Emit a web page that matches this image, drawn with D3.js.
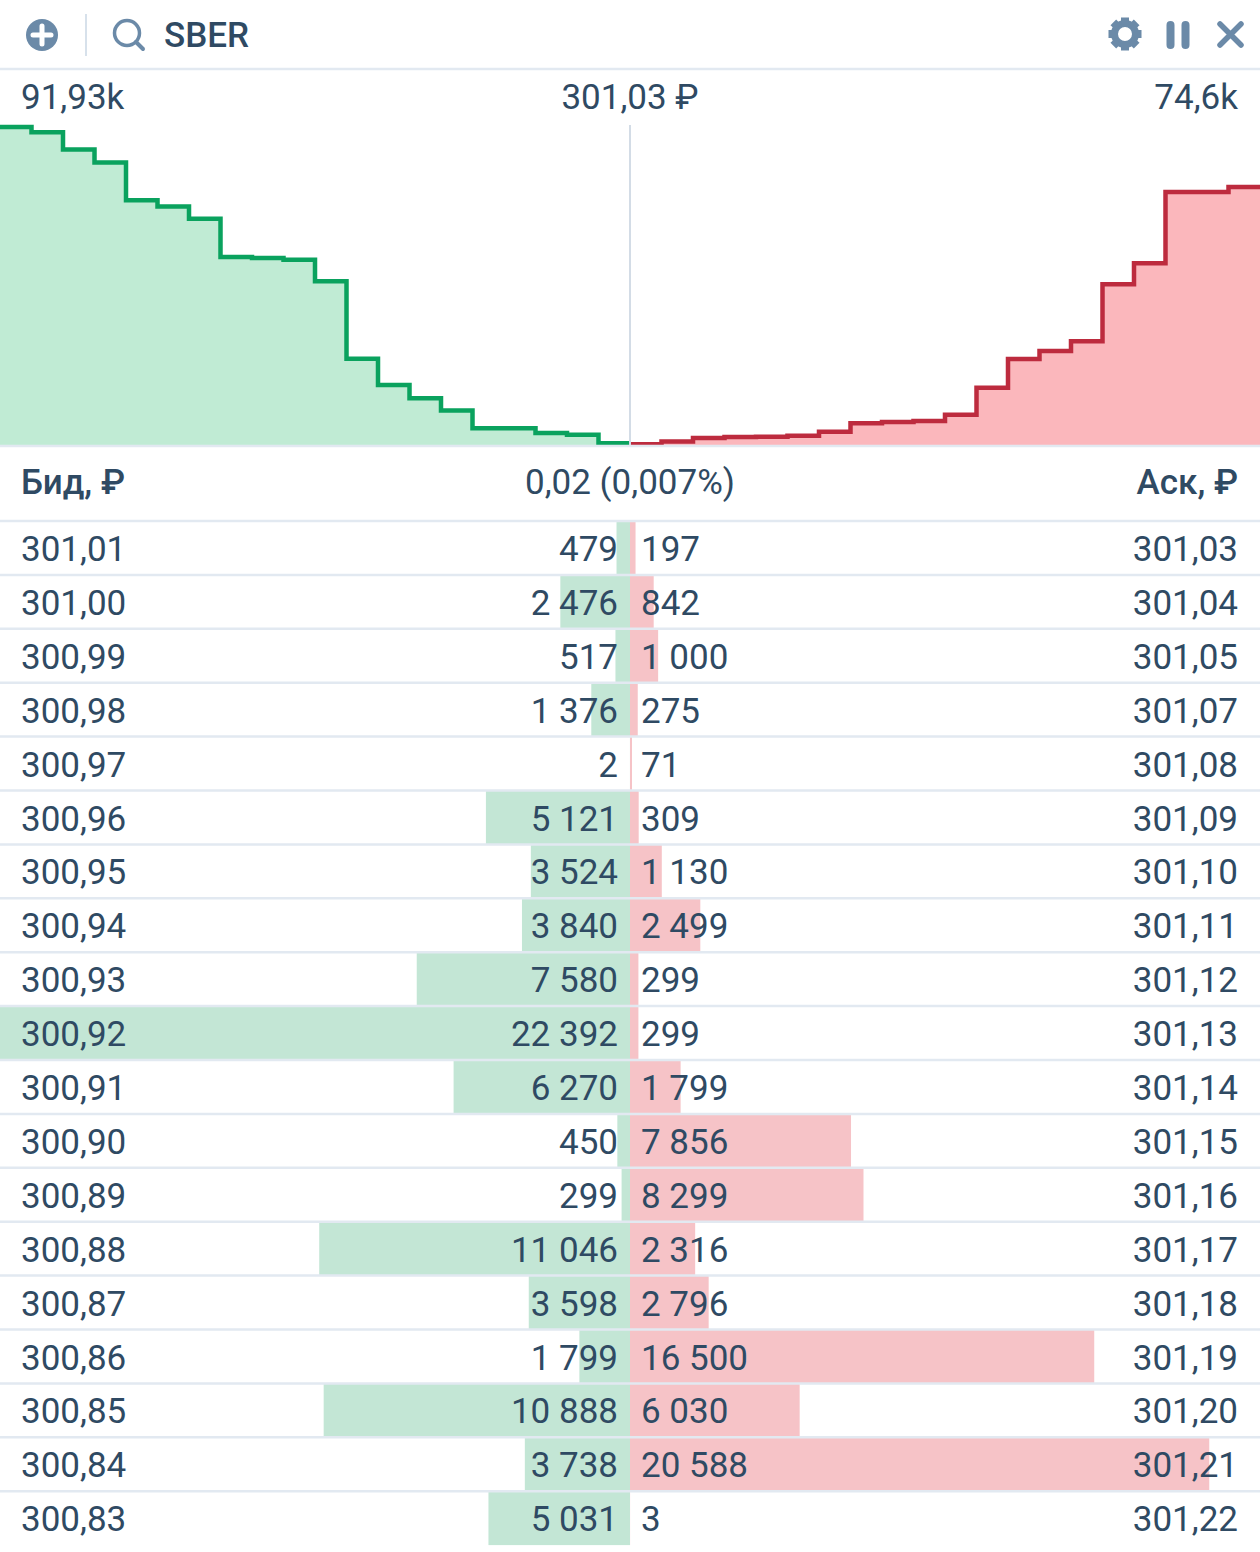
<!DOCTYPE html>
<html>
<head>
<meta charset="utf-8">
<script src="https://cdnjs.cloudflare.com/ajax/libs/d3/7.8.5/d3.min.js"></script>
<style>
  html, body { margin: 0; padding: 0; background: #fff; }
  svg { display: block; }
  text { font-family: Roboto, sans-serif; font-size: 35px; fill: #2f4a63; }
</style>
</head>
<body>
<svg id="chart" width="1260" height="1552"></svg>
<script>
const bidPrices = ["301,01","301,00","300,99","300,98","300,97","300,96","300,95","300,94","300,93","300,92","300,91","300,90","300,89","300,88","300,87","300,86","300,85","300,84","300,83"];
const askPrices = ["301,03","301,04","301,05","301,07","301,08","301,09","301,10","301,11","301,12","301,13","301,14","301,15","301,16","301,17","301,18","301,19","301,20","301,21","301,22"];
const bidVolumes = [479,2476,517,1376,2,5121,3524,3840,7580,22392,6270,450,299,11046,3598,1799,10888,3738,5031];
const askVolumes = [197,842,1000,275,71,309,1130,2499,299,299,1799,7856,8299,2316,2796,16500,6030,20588,3];
// cumulative book depth, last level sits below the visible rows
const bidDepth = [479,2955,3472,4848,4850,9971,13495,17335,24915,47307,53577,54027,54326,65372,68970,70769,81657,85395,90426,91930];
const askDepth = [197,1039,2039,2314,2385,2694,3824,6323,6622,6921,8720,16576,24875,27191,29987,46487,52517,73105,73108,74600];

const textColor = "#2f4a63", iconColor = "#6b8aa8", ruleColor = "#e2e9f1";
const W = 1260, mid = 630;
const svg = d3.select("#chart");

// depth chart
const level = d3.scaleLinear().domain([0, 20]).range([0, 630]);
const depthY = d3.scaleLinear().domain([0, 91930]).range([445, 127]);

function drawDepth(depth, side, fill, stroke) {
  const pts = [[0, depth[0]]];
  depth.forEach((d, i) => { pts.push([i + 1, d]); });
  const px = i => mid + side * level(i);
  const line = d3.line().x(d => px(d[0])).y(d => depthY(d[1])).curve(d3.curveStepBefore);
  const area = d3.area().x(d => px(d[0])).y0(depthY(0)).y1(d => depthY(d[1])).curve(d3.curveStepBefore);
  svg.append("path").attr("d", area(pts)).attr("fill", fill);
  svg.append("path").attr("d", line(pts)).attr("fill", "none").attr("stroke", stroke).attr("stroke-width", 4.5);
}
drawDepth(bidDepth, -1, "#c0ebd4", "#0aa25e");
drawDepth(askDepth, 1, "#fbb7bc", "#bd2b3e");

svg.append("line").attr("x1", mid).attr("x2", mid).attr("y1", 125).attr("y2", 445)
  .attr("stroke", "#d3dce6").attr("stroke-width", 2);

// rows
const rowY = d3.scaleLinear().domain([0, 1]).range([521, 574.9]);
const barX = d3.scaleLinear().domain([0, 22392]).range([0, 630]);
const rows = d3.range(bidPrices.length);

svg.selectAll(".bid").data(rows).join("rect").attr("class", "bid")
  .attr("x", i => mid - barX(bidVolumes[i])).attr("width", i => barX(bidVolumes[i]))
  .attr("y", i => rowY(i)).attr("height", 53.9).attr("fill", "#c3e6d5");
svg.selectAll(".ask").data(rows).join("rect").attr("class", "ask")
  .attr("x", mid).attr("width", i => barX(askVolumes[i]))
  .attr("y", i => rowY(i)).attr("height", 53.9).attr("fill", "#f6c3c7");

// row rules, header rules
[69, 446].concat(d3.range(0, 19).map(i => rowY(i))).forEach(y => {
  svg.append("line").attr("x1", 0).attr("x2", W).attr("y1", y).attr("y2", y)
    .attr("stroke", ruleColor).attr("stroke-width", 2.5);
});

const fmt = v => String(v).replace(/\B(?=(\d{3})+$)/g, " ");
function col(cls, x, anchor, get) {
  svg.selectAll("." + cls).data(rows).join("text").attr("class", cls)
    .attr("x", x).attr("y", i => rowY(i) + 40).attr("text-anchor", anchor).text(get);
}
col("bp", 21, "start", i => bidPrices[i]);
col("bv", 618, "end", i => fmt(bidVolumes[i]));
col("av", 641, "start", i => fmt(askVolumes[i]));
col("ap", 1238, "end", i => askPrices[i]);

// labels
function label(x, y, str, anchor, weight) {
  svg.append("text").attr("x", x).attr("y", y).attr("text-anchor", anchor)
    .attr("font-weight", weight || 400).style("font-weight", weight || 400).text(str);
}
label(21, 109, "91,93k", "start");
label(630, 109, "301,03 ₽", "middle");
label(1238, 109, "74,6k", "end");
label(21, 494, "Бид, ₽", "start", 500);
label(630, 494, "0,02 (0,007%)", "middle");
label(1238, 494, "Аск, ₽", "end", 500);
label(164, 47, "SBER", "start", 500);

// toolbar icons
const icons = svg.append("g");
icons.append("circle").attr("cx", 42).attr("cy", 35).attr("r", 16).attr("fill", iconColor);
icons.append("path").attr("d", "M33 35H51M42 26V44").attr("stroke", "#fff").attr("stroke-width", 5).attr("stroke-linecap", "round");
icons.append("line").attr("x1", 86).attr("x2", 86).attr("y1", 14).attr("y2", 56).attr("stroke", "#d7e1eb").attr("stroke-width", 2);
icons.append("circle").attr("cx", 127).attr("cy", 33).attr("r", 12.5).attr("fill", "none").attr("stroke", iconColor).attr("stroke-width", 3.5);
icons.append("line").attr("x1", 136).attr("y1", 42).attr("x2", 143).attr("y2", 49).attr("stroke", iconColor).attr("stroke-width", 4).attr("stroke-linecap", "round");
// gear
icons.append("circle").attr("cx", 1125).attr("cy", 34).attr("r", 10.5).attr("fill", "none").attr("stroke", iconColor).attr("stroke-width", 7);
d3.range(8).forEach(i => {
  icons.append("rect").attr("x", 1121).attr("y", 17.5).attr("width", 8).attr("height", 7).attr("fill", iconColor)
    .attr("transform", `rotate(${i * 45} 1125 34)`);
});
icons.append("path").attr("d", "M1170.5 25V45M1185.5 25V45").attr("stroke", iconColor).attr("stroke-width", 8).attr("stroke-linecap", "round");
icons.append("path").attr("d", "M1220 24L1241 45M1241 24L1220 45").attr("stroke", iconColor).attr("stroke-width", 5.5).attr("stroke-linecap", "round");
</script>
</body>
</html>
